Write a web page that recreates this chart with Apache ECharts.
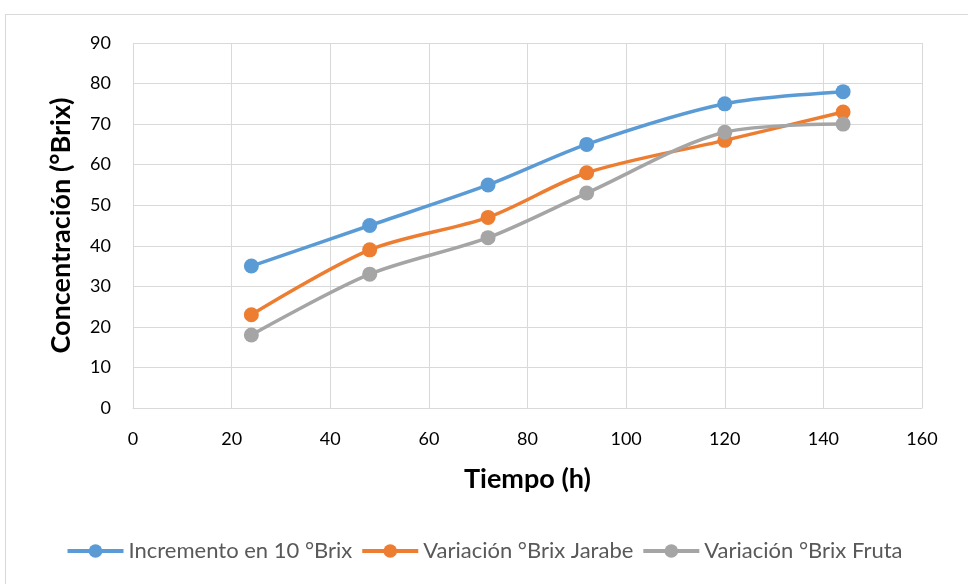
<!DOCTYPE html>
<html><head><meta charset="utf-8">
<script src="https://cdn.jsdelivr.net/npm/echarts@6/dist/echarts.min.js"></script>
<style>html,body{margin:0;padding:0;background:#fff}#c{width:968px;height:584px;position:relative}
#frame{position:absolute;left:5px;top:14px;width:975px;height:580px;border:1px solid #d9d9d9;box-sizing:border-box;pointer-events:none}</style>
</head><body><div id="c"></div><div id="frame"></div>
<script>
const xTimes = [24, 48, 72, 92, 120, 144];
const seriesNames = ['Incremento en 10 °Brix', 'Variación °Brix Jarabe', 'Variación °Brix Fruta'];
const incremento = [35, 45, 55, 65, 75, 78];
const jarabe = [23, 39, 47, 58, 66, 73];
const fruta = [18, 33, 42, 53, 68, 70];
const colors = ['#5b9bd5', '#ed7d31', '#a5a5a5'];
const values = [incremento, jarabe, fruta];

const font = 'Lato, "Open Sans", sans-serif';
const chart = echarts.init(document.getElementById('c'));
chart.setOption({
  animation: false,
  color: colors,
  grid: {left: 133, right: 46, top: 43, bottom: 176},
  xAxis: {
    type: 'value', min: 0, max: 160, interval: 20,
    name: 'Tiempo (h)', nameLocation: 'middle', nameGap: 58,
    nameTextStyle: {fontFamily: font, fontSize: 27, fontWeight: 'bold', color: '#000'},
    axisLine: {lineStyle: {color: '#d9d9d9', width: 1}},
    axisTick: {show: false},
    axisLabel: {fontFamily: font, fontSize: 18, color: '#000', margin: 22},
    splitLine: {show: true, lineStyle: {color: '#d9d9d9', width: 1}}
  },
  yAxis: {
    type: 'value', min: 0, max: 90, interval: 10,
    name: 'Concentración (°Brix)', nameLocation: 'middle', nameGap: 58,
    nameTextStyle: {fontFamily: font, fontSize: 27, fontWeight: 'bold', color: '#000'},
    axisLine: {show: false},
    axisTick: {show: false},
    axisLabel: {fontFamily: font, fontSize: 18, color: '#000', margin: 22},
    splitLine: {show: true, lineStyle: {color: '#d9d9d9', width: 1}}
  },
  legend: {
    bottom: 17, left: 'center', itemGap: 8, itemWidth: 56, itemHeight: 17,
    lineStyle: {width: 4},
    textStyle: {fontFamily: font, fontSize: 22, color: '#595959'},
    data: seriesNames
  },
  series: values.map((v, i) => ({
    name: seriesNames[i], type: 'line', smooth: 0.3,
    data: xTimes.map((x, j) => [x, v[j]]),
    symbol: 'circle', symbolSize: 15,
    lineStyle: {width: 3.5, color: colors[i]},
    itemStyle: {color: colors[i]}
  }))
});
</script></body></html>
